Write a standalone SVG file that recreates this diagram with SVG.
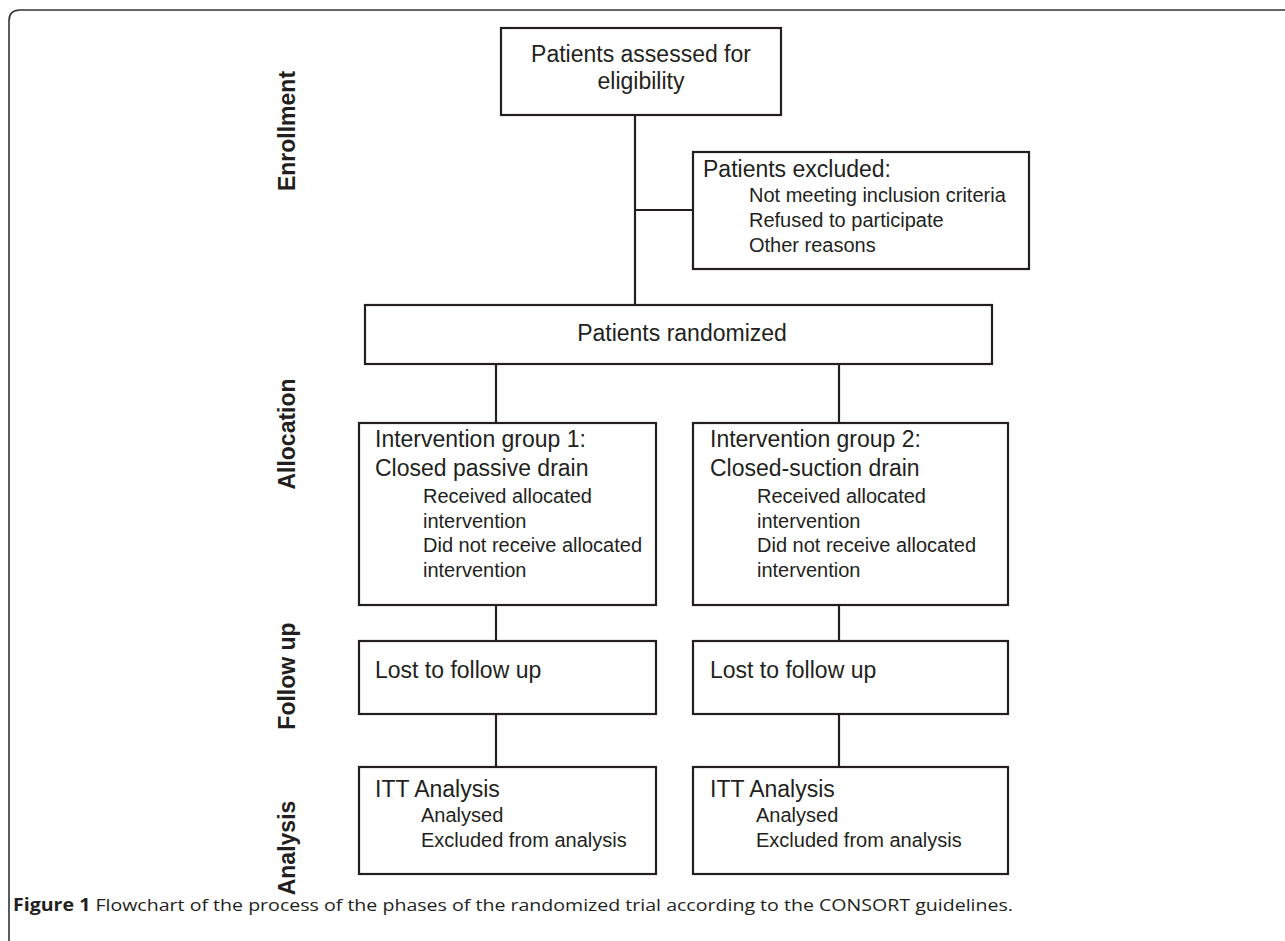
<svg xmlns="http://www.w3.org/2000/svg" width="1285" height="941" viewBox="0 0 1285 941">
<style>
.box{fill:#fff;stroke:#231f20;stroke-width:2.2}
.ln{fill:none;stroke:#231f20;stroke-width:2.2}
.t{font-family:"Liberation Sans",Arial,sans-serif;fill:#231f20}
.h{font-size:23px}
.s{font-size:20px}
.ph{font-family:"Liberation Sans",Arial,sans-serif;font-weight:bold;font-size:23px;fill:#231f20}
.cap{font-family:"Open Sans","Liberation Sans",sans-serif;font-size:17px;fill:#231f20}
</style>
<rect width="1285" height="941" fill="#fff"/>
<path d="M9,941 V21 Q9,10 20,10 H1285" fill="none" stroke="#333" stroke-width="1.6"/>

<g id="phases">
<text class="ph" transform="translate(295,131) rotate(-90)" text-anchor="middle">Enrollment</text>
<text class="ph" transform="translate(295,434) rotate(-90)" text-anchor="middle">Allocation</text>
<text class="ph" transform="translate(295,676) rotate(-90)" text-anchor="middle">Follow up</text>
<text class="ph" transform="translate(295,848) rotate(-90)" text-anchor="middle">Analysis</text>
</g>

<g id="connectors">
<path class="ln" d="M635,115 V305"/>
<path class="ln" d="M635,210 H693"/>
<path class="ln" d="M496,364 V423"/>
<path class="ln" d="M839,364 V423"/>
<path class="ln" d="M496,605 V641"/>
<path class="ln" d="M839,605 V641"/>
<path class="ln" d="M496,714 V767"/>
<path class="ln" d="M839,714 V767"/>
</g>

<g id="assessed">
<rect class="box" x="501" y="28" width="280" height="87"/>
<text class="t h" x="641" y="62" text-anchor="middle">Patients assessed for</text>
<text class="t h" x="641" y="89" text-anchor="middle">eligibility</text>
</g>

<g id="excluded">
<rect class="box" x="693" y="152" width="336" height="117"/>
<text class="t h" x="703" y="177">Patients excluded:</text>
<text class="t s" x="749" y="202">Not meeting inclusion criteria</text>
<text class="t s" x="749" y="227">Refused to participate</text>
<text class="t s" x="749" y="252">Other reasons</text>
</g>

<g id="randomized">
<rect class="box" x="365" y="305" width="627" height="59"/>
<text class="t h" x="682" y="341" text-anchor="middle">Patients randomized</text>
</g>

<g id="group1">
<rect class="box" x="359" y="423" width="297" height="182"/>
<text class="t h" x="375" y="447">Intervention group 1:</text>
<text class="t h" x="375" y="476">Closed passive drain</text>
<text class="t s" x="423" y="503">Received allocated</text>
<text class="t s" x="423" y="528">intervention</text>
<text class="t s" x="423" y="552">Did not receive allocated</text>
<text class="t s" x="423" y="577">intervention</text>
</g>

<g id="group2">
<rect class="box" x="693" y="423" width="315" height="182"/>
<text class="t h" x="710" y="447">Intervention group 2:</text>
<text class="t h" x="710" y="476">Closed-suction drain</text>
<text class="t s" x="757" y="503">Received allocated</text>
<text class="t s" x="757" y="528">intervention</text>
<text class="t s" x="757" y="552">Did not receive allocated</text>
<text class="t s" x="757" y="577">intervention</text>
</g>

<g id="followup1">
<rect class="box" x="359" y="641" width="297" height="73"/>
<text class="t h" x="375" y="678">Lost to follow up</text>
</g>

<g id="followup2">
<rect class="box" x="693" y="641" width="315" height="73"/>
<text class="t h" x="710" y="678">Lost to follow up</text>
</g>

<g id="analysis1">
<rect class="box" x="359" y="767" width="297" height="107"/>
<text class="t h" x="375" y="797">ITT Analysis</text>
<text class="t s" x="421" y="822">Analysed</text>
<text class="t s" x="421" y="847">Excluded from analysis</text>
</g>

<g id="analysis2">
<rect class="box" x="693" y="767" width="315" height="107"/>
<text class="t h" x="710" y="797">ITT Analysis</text>
<text class="t s" x="756" y="822">Analysed</text>
<text class="t s" x="756" y="847">Excluded from analysis</text>
</g>

<text class="cap" x="13" y="911" textLength="1000" lengthAdjust="spacingAndGlyphs"><tspan font-weight="bold">Figure 1</tspan> Flowchart of the process of the phases of the randomized trial according to the CONSORT guidelines.</text>
</svg>
